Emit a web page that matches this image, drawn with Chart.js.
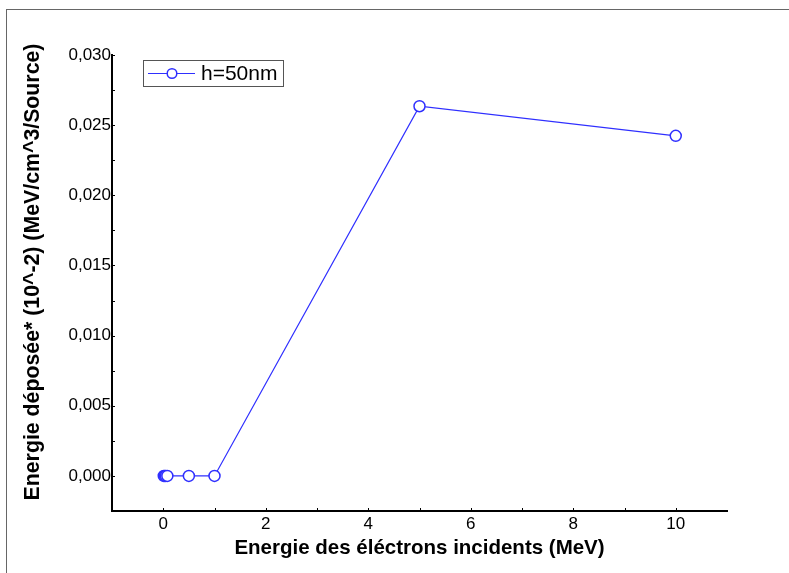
<!DOCTYPE html>
<html>
<head>
<meta charset="utf-8">
<title>Energie déposée</title>
<script src="https://cdn.jsdelivr.net/npm/chart.js@4"></script>
<style>
  body { margin: 0; background: #fff; }
  #wrap { position: relative; width: 789px; height: 573px; }
  /* thin grey frame around the figure (top and left edges) */
  #frame { position: absolute; left: 6px; top: 9px; right: -5px; bottom: -5px;
           border-top: 1px solid #666; border-left: 1px solid #666; pointer-events: none; }
</style>
</head>
<body>
<div id="wrap">
  <canvas id="doseChart"></canvas>
  <div id="frame"></div>
</div>
<script>
// Incident electron energy (MeV) and deposited energy for h=50nm
const energies = [0.01, 0.03, 0.05, 0.08, 0.5, 1, 5, 10];
const dose = [0, 0, 0, 0, 0, 0, 0.02635, 0.02424];
const seriesLabel = 'h=50nm';

// labelled axis ticks
const xTicks = [0, 2, 4, 6, 8, 10];
const yTicks = [0, 0.005, 0.010, 0.015, 0.020, 0.025, 0.030];

const xTitle = 'Energie des éléctrons incidents (MeV)';
const yTitle = 'Energie déposée* (10^-2) (MeV/cm^3/Source)';

const FONT = '"Liberation Sans", Arial, sans-serif';
const BLUE = '#2f2fff';

// short inward ticks: majors on labelled values, minors half way between
const innerTicks = {
    id: 'innerTicks',
    afterDraw(chart) {
        const ctx = chart.ctx;
        const x = chart.scales.x, y = chart.scales.y;
        const mid = arr => arr.slice(1).map((v, i) => (v + arr[i]) / 2);
        ctx.save();
        ctx.strokeStyle = '#000';
        ctx.lineWidth = 1;
        ctx.beginPath();
        xTicks.concat(mid(xTicks)).forEach(v => {
            const px = Math.round(x.getPixelForValue(v)) + 0.5;
            ctx.moveTo(px, x.top);
            ctx.lineTo(px, x.top - 3);
        });
        yTicks.concat(mid(yTicks)).forEach(v => {
            const py = Math.round(y.getPixelForValue(v)) + 0.5;
            ctx.moveTo(y.right, py);
            ctx.lineTo(y.right + 3, py);
        });
        ctx.stroke();
        ctx.restore();
    }
};

// vertical axis title, centred a little above the middle of the axis
const yAxisTitle = {
    id: 'yAxisTitle',
    afterDraw(chart) {
        const ctx = chart.ctx;
        const y = chart.scales.y;
        ctx.save();
        ctx.translate(33, (y.top + y.bottom) / 2 - 11);
        ctx.rotate(-Math.PI / 2);
        ctx.font = 'bold 21.3px ' + FONT;
        ctx.fillStyle = '#000';
        ctx.textAlign = 'center';
        ctx.textBaseline = 'middle';
        ctx.fillText(yTitle, 0, 0);
        ctx.restore();
    }
};

// boxed legend in the upper left of the plot
const boxLegend = {
    id: 'boxLegend',
    afterDraw(chart) {
        const ctx = chart.ctx;
        const area = chart.chartArea;
        const ds = chart.data.datasets[0];
        const bx = area.left + 31, by = area.top + 5, bw = 140, bh = 26;
        ctx.save();
        ctx.fillStyle = '#fff';
        ctx.fillRect(bx, by, bw, bh);
        ctx.strokeStyle = '#555';
        ctx.lineWidth = 1;
        ctx.strokeRect(bx + 0.5, by + 0.5, bw, bh);
        const cy = by + bh / 2 + 0.5;
        ctx.strokeStyle = ds.borderColor;
        ctx.lineWidth = 1.2;
        ctx.beginPath();
        ctx.moveTo(bx + 5, cy);
        ctx.lineTo(bx + 52, cy);
        ctx.stroke();
        ctx.beginPath();
        ctx.arc(bx + 29, cy, 4.8, 0, Math.PI * 2);
        ctx.fillStyle = '#fff';
        ctx.fill();
        ctx.lineWidth = 1.5;
        ctx.stroke();
        ctx.fillStyle = '#000';
        ctx.font = '21px ' + FONT;
        ctx.textBaseline = 'middle';
        ctx.fillText(ds.label, bx + 58, cy + 1);
        ctx.restore();
    }
};

const ctx = document.getElementById('doseChart').getContext('2d');
new Chart(ctx, {
    type: 'line',
    data: {
        datasets: [{
            label: seriesLabel,
            data: energies.map((e, i) => ({ x: e, y: dose[i] })),
            borderColor: BLUE,
            borderWidth: 1.2,
            backgroundColor: '#fff',
            pointBackgroundColor: '#fff',
            pointBorderColor: BLUE,
            pointBorderWidth: 1.5,
            pointRadius: 5.5,
            tension: 0,
            fill: false
        }]
    },
    options: {
        responsive: true,
        maintainAspectRatio: false,
        animation: false,
        layout: { padding: { left: 0, top: 55, right: 62, bottom: 0 } },
        plugins: {
            legend: { display: false },
            tooltip: { enabled: false }
        },
        scales: {
            x: {
                type: 'linear',
                min: -1,
                max: 11,
                border: { display: true, color: '#000', width: 2 },
                grid: { display: false, drawTicks: false },
                afterBuildTicks: scale => { scale.ticks = xTicks.map(v => ({ value: v })); },
                ticks: {
                    padding: 3,
                    color: '#000',
                    font: { family: FONT, size: 17 },
                    maxRotation: 0,
                    autoSkip: false,
                    callback: v => String(v)
                },
                title: {
                    display: true,
                    text: xTitle,
                    color: '#000',
                    font: { family: FONT, size: 20.5, weight: 'bold' },
                    padding: { top: 0, bottom: 12 }
                },
                afterFit: scale => { scale.height = 62; }
            },
            y: {
                type: 'linear',
                min: -0.0025,
                max: 0.030,
                border: { display: true, color: '#000', width: 2 },
                grid: { display: false, drawTicks: false },
                afterBuildTicks: scale => { scale.ticks = yTicks.map(v => ({ value: v })); },
                ticks: {
                    padding: 1,
                    color: '#000',
                    font: { family: FONT, size: 17 },
                    autoSkip: false,
                    callback: v => v.toFixed(3).replace('.', ',')
                },
                title: { display: false },
                afterFit: scale => { scale.width = 112; }
            }
        }
    },
    plugins: [innerTicks, yAxisTitle, boxLegend]
});
</script>
</body>
</html>
